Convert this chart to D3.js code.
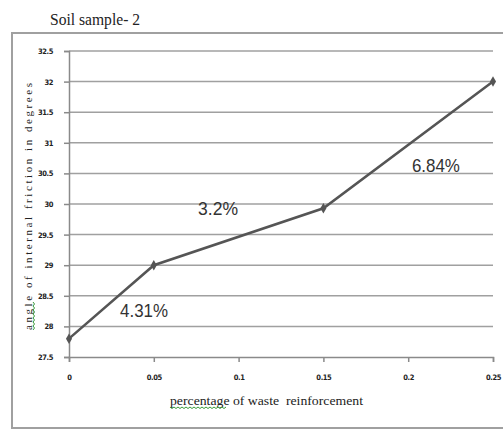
<!DOCTYPE html>
<html><head><meta charset="utf-8">
<script src="https://cdn.jsdelivr.net/npm/d3@7"></script>
<style>body{margin:0;background:#fff}</style>
</head><body>
<svg id="c" width="503" height="430"></svg>
<script>
const xValues = [0, 0.05, 0.15, 0.25];
const yValues = [27.8, 29.0, 29.93, 32.0];
const xTicks = [0, 0.05, 0.1, 0.15, 0.2, 0.25];
const xTickLabels = ["0", "0.05", "0.1", "0.15", "0.2", "0.25"];
const yTicks = [27.5, 28, 28.5, 29, 29.5, 30, 30.5, 31, 31.5, 32, 32.5];
const yTickLabels = ["27.5","28","28.5","29","29.5","30","30.5","31","31.5","32","32.5"];
const annotations = ["4.31%", "3.2%", "6.84%"];
const annotationPos = [[0.0301, 28.15], [0.0761, 29.82], [0.2022, 30.52]];
const annotationWidth = [48, 40, 48];

const svg = d3.select("#c");
const x = d3.scaleLinear().domain([0, 0.25]).range([69, 493]);
const y = d3.scaleLinear().domain([27.5, 32.5]).range([357, 51]);

// outer frame
svg.append("rect").attr("x", 12).attr("y", 33).attr("width", 500).attr("height", 395)
  .attr("fill", "none").attr("stroke", "#a0a0a0").attr("stroke-width", 2);

// title
svg.append("text").attr("x", 50).attr("y", 25).text("Soil sample- 2")
  .attr("font-family", "Liberation Serif, serif").attr("font-size", 16.5).attr("fill", "#222")
  .attr("textLength", 90).attr("lengthAdjust", "spacingAndGlyphs");

// gridlines
svg.append("g").selectAll("line").data(yTicks.slice(1)).join("line")
  .attr("x1", x(0)).attr("x2", x(0.25)).attr("y1", d => y(d)).attr("y2", d => y(d))
  .attr("stroke", "#a0a0a0").attr("stroke-width", 1.5);

// y axis
const yAxis = d3.axisLeft(y).tickValues(yTicks).tickFormat((d, i) => yTickLabels[i]).tickSize(5).tickPadding(11);
const gy = svg.append("g").attr("transform", `translate(${x(0)},0)`).call(yAxis);
gy.select(".domain").attr("stroke", "#8a8a8a").attr("stroke-width", 1.5);
gy.selectAll(".tick line").attr("stroke", "#8a8a8a").attr("stroke-width", 1.5);
gy.selectAll("text").attr("font-family", "DejaVu Sans Condensed, sans-serif").attr("font-weight", "bold")
  .attr("font-size", 7.5).attr("letter-spacing", -0.4).attr("fill", "#222");

// x axis
const xAxis = d3.axisBottom(x).tickValues(xTicks).tickFormat((d, i) => xTickLabels[i]).tickSize(5).tickPadding(13);
const gx = svg.append("g").attr("transform", `translate(0,${y(27.5)})`).call(xAxis);
gx.select(".domain").attr("stroke", "#8a8a8a").attr("stroke-width", 1.5);
gx.selectAll(".tick line").attr("stroke", "#8a8a8a").attr("stroke-width", 1.5);
gx.selectAll("text").attr("font-family", "DejaVu Sans Condensed, sans-serif").attr("font-weight", "bold")
  .attr("font-size", 7.5).attr("letter-spacing", -0.4).attr("fill", "#222");

// line
const pts = xValues.map((d, i) => [d, yValues[i]]);
svg.append("path").datum(pts)
  .attr("d", d3.line().x(d => x(d[0])).y(d => y(d[1])))
  .attr("fill", "none").attr("stroke", "#555").attr("stroke-width", 2.5);
svg.append("g").selectAll("path").data(pts).join("path")
  .attr("d", d3.symbol(d3.symbolDiamond, 32))
  .attr("transform", d => `translate(${x(d[0])},${y(d[1])})`)
  .attr("fill", "#555");

// annotations
svg.append("g").selectAll("text").data(annotations).join("text")
  .attr("x", (d, i) => x(annotationPos[i][0])).attr("y", (d, i) => y(annotationPos[i][1]))
  .text(d => d)
  .attr("textLength", (d, i) => annotationWidth[i]).attr("lengthAdjust", "spacingAndGlyphs")
  .attr("font-family", "Liberation Sans, Arial, sans-serif").attr("font-size", 19).attr("fill", "#333");

// wavy underline helper
function wavy(x0, y0, len, vertical) {
  const p = d3.path();
  const step = 2;
  for (let i = 0; i <= len; i += step) {
    const off = (i / step) % 2 === 0 ? 0 : 1.5;
    if (vertical) { i === 0 ? p.moveTo(x0 + off, y0 - i) : p.lineTo(x0 + off, y0 - i); }
    else { i === 0 ? p.moveTo(x0 + i, y0 + off) : p.lineTo(x0 + i, y0 + off); }
  }
  return p.toString();
}

// x axis label
const xl = svg.append("text").attr("x", 170).attr("y", 405)
  .attr("font-family", "Liberation Serif, serif").attr("font-size", 13.5).attr("fill", "#222")
  .attr("textLength", 193).attr("lengthAdjust", "spacingAndGlyphs");
xl.append("tspan").text("percentage");
xl.append("tspan").text(" of waste\u00a0 reinforcement");
svg.append("path").attr("d", wavy(170, 407, 56, false)).attr("fill", "none").attr("stroke", "#3a9a3a").attr("stroke-width", 1);

// y axis label
const yl = svg.append("text").attr("transform", "translate(32,330) rotate(-90)")
  .attr("font-family", "Liberation Serif, serif").attr("font-size", 11).attr("fill", "#222")
  .attr("textLength", 247).attr("lengthAdjust", "spacing");
yl.append("tspan").text("angle");
yl.append("tspan").text(" of internal friction in degrees");
svg.append("path").attr("d", wavy(33, 330, 28, true)).attr("fill", "none").attr("stroke", "#3a9a3a").attr("stroke-width", 1);
</script>
</body></html>
